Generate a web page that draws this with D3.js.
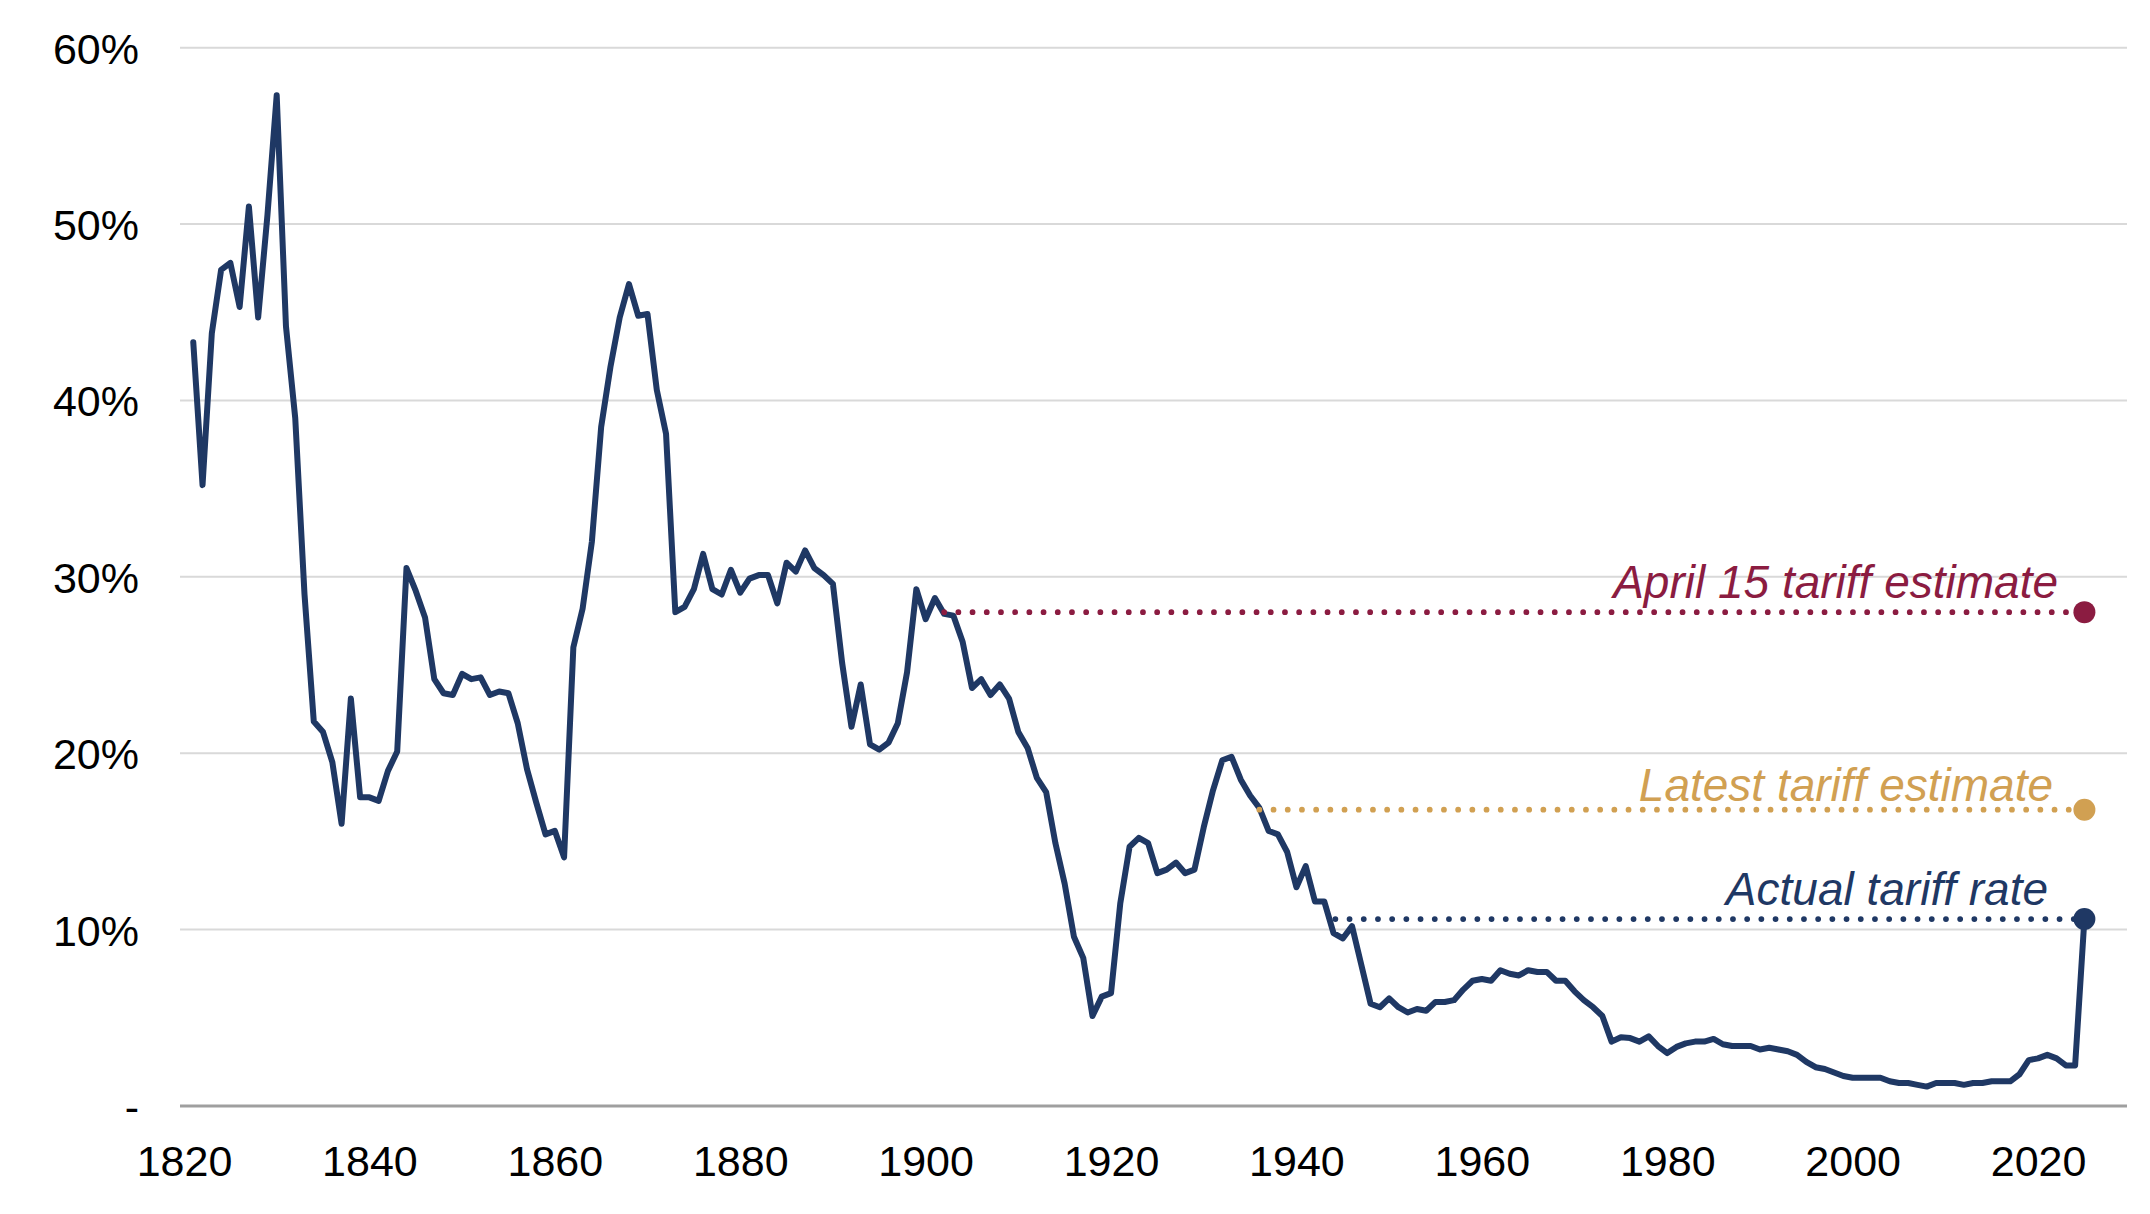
<!DOCTYPE html>
<html>
<head>
<meta charset="utf-8">
<script src="https://cdn.jsdelivr.net/npm/d3@7"></script>
<style>
  html, body { margin: 0; padding: 0; background: #fff; }
  svg { display: block; }
  text { font-family: "Liberation Sans", Arial, sans-serif; }
</style>
</head>
<body>
<svg id="chart" width="2150" height="1214"></svg>
<script>
// ---- Data ----
const years = d3.range(1821, 2026);
const tariffRates = [
  43.3, 35.2, 43.8, 47.4, 47.8, 45.3, 51.0, 44.7, 50.5, 57.3, // 1821-1830
  44.2, 39.0, 29.0, 21.8, 21.2, 19.5, 16.0, 23.1, 17.5, 17.5, // 1831-1840
  17.3, 19.0, 20.1, 30.5, 29.2, 27.7, 24.2, 23.4, 23.3, 24.5, // 1841-1850
  24.2, 24.3, 23.3, 23.5, 23.4, 21.7, 19.1, 17.2, 15.4, 15.6, // 1851-1860
  14.1, 26.0, 28.2, 32.0, 38.5, 41.9, 44.7, 46.6, 44.8, 44.9, // 1861-1870
  40.6, 38.1, 28.0, 28.3, 29.3, 31.3, 29.3, 29.0, 30.4, 29.1, // 1871-1880
  29.9, 30.1, 30.1, 28.5, 30.8, 30.3, 31.5, 30.5, 30.1, 29.6, // 1881-1890
  25.1, 21.5, 23.9, 20.5, 20.2, 20.6, 21.7, 24.6, 29.3, 27.6, // 1891-1900
  28.8, 27.9, 27.8, 26.3, 23.7, 24.2, 23.3, 23.9, 23.1, 21.2, // 1901-1910
  20.3, 18.6, 17.8, 14.9, 12.6, 9.6, 8.4, 5.1, 6.2, 6.4,      // 1911-1920
  11.5, 14.7, 15.2, 14.9, 13.2, 13.4, 13.8, 13.2, 13.4, 15.8, // 1921-1930
  17.9, 19.6, 19.8, 18.5, 17.6, 16.9, 15.6, 15.4, 14.4, 12.4, // 1931-1940
  13.6, 11.6, 11.6, 9.8, 9.5, 10.2, 8.0, 5.8, 5.6, 6.1,       // 1941-1950
  5.6, 5.3, 5.5, 5.4, 5.9, 5.9, 6.0, 6.6, 7.1, 7.2,           // 1951-1960
  7.1, 7.7, 7.5, 7.4, 7.7, 7.6, 7.6, 7.1, 7.1, 6.5,           // 1961-1970
  6.0, 5.6, 5.1, 3.65, 3.9, 3.85, 3.65, 3.95, 3.4, 3.0,       // 1971-1980
  3.35, 3.55, 3.65, 3.65, 3.8, 3.5, 3.4, 3.4, 3.4, 3.2,       // 1981-1990
  3.3, 3.2, 3.1, 2.9, 2.5, 2.2, 2.1, 1.9, 1.7, 1.6,           // 1991-2000
  1.6, 1.6, 1.6, 1.4, 1.3, 1.3, 1.2, 1.1, 1.3, 1.3,           // 2001-2010
  1.3, 1.2, 1.3, 1.3, 1.4, 1.4, 1.4, 1.8, 2.6, 2.7,           // 2011-2020
  2.9, 2.7, 2.3, 2.3, 10.6                                    // 2021-2025
];

const xTickYears = [1820, 1840, 1860, 1880, 1900, 1920, 1940, 1960, 1980, 2000, 2020];
const yTickValues = [0, 10, 20, 30, 40, 50, 60];
const yTickLabels = ["-", "10%", "20%", "30%", "40%", "50%", "60%"];

const refLabels = ["April 15 tariff estimate", "Latest tariff estimate", "Actual tariff rate"];
const refValues = [28.0, 16.8, 10.6];
const refStartYears = [1902, 1936, 1944.2];
const refEndYear = 2025;
const refColors = ["#8B1C41", "#D1A052", "#1F3864"];

// ---- Layout ----
const svg = d3.select("#chart");
const W = 2150, H = 1214;
const gridLeft = 180, gridRight = 2127;

const x = d3.scaleLinear().domain([1820, 2025]).range([184, 2084.4]);
const y = d3.scaleLinear().domain([0, 60]).range([1106, 47.7]);

svg.append("rect").attr("width", W).attr("height", H).attr("fill", "#fff");

// Gridlines
svg.append("g").selectAll("line")
  .data(yTickValues.filter(v => v > 0))
  .join("line")
  .attr("x1", gridLeft).attr("x2", gridRight)
  .attr("y1", d => y(d)).attr("y2", d => y(d))
  .attr("stroke", "#d9d9d9").attr("stroke-width", 2);

// Baseline
svg.append("line")
  .attr("x1", gridLeft).attr("x2", gridRight)
  .attr("y1", y(0)).attr("y2", y(0))
  .attr("stroke", "#9f9f9f").attr("stroke-width", 3);

// Y axis labels
const yAxis = d3.axisLeft(y).tickValues(yTickValues)
  .tickFormat((d, i) => yTickLabels[i]).tickSize(0).tickPadding(0);
const yG = svg.append("g").attr("transform", "translate(139,0)").call(yAxis);
yG.select(".domain").remove();
yG.selectAll("text")
  .attr("font-family", "Liberation Sans, Arial, sans-serif")
  .attr("font-size", 43).attr("fill", "#000")
  .attr("dy", "0.36em").attr("text-anchor", "end");

// X axis labels
const xAxis = d3.axisBottom(x).tickValues(xTickYears).tickFormat(d3.format("d"))
  .tickSize(0).tickPadding(0);
const xG = svg.append("g").attr("transform", "translate(0,1176)").call(xAxis);
xG.select(".domain").remove();
xG.selectAll("text")
  .attr("font-family", "Liberation Sans, Arial, sans-serif")
  .attr("font-size", 43).attr("fill", "#000")
  .attr("y", 0).attr("dy", 0);

const refs = refLabels.map((label, i) => ({
  label, value: refValues[i], start: refStartYears[i], color: refColors[i]
}));

// Main line
const series = years.map((yr, i) => ({ year: yr, value: tariffRates[i] }));
const line = d3.line().x(d => x(d.year)).y(d => y(d.value));
svg.append("path")
  .datum(series)
  .attr("d", line)
  .attr("fill", "none")
  .attr("stroke", "#1F3864")
  .attr("stroke-width", 6)
  .attr("stroke-linejoin", "round")
  .attr("stroke-linecap", "round");

// Reference dotted lines (drawn above the main line)
svg.append("g").selectAll("line")
  .data(refs)
  .join("line")
  .attr("x1", d => x(d.start)).attr("x2", x(refEndYear))
  .attr("y1", d => y(d.value)).attr("y2", d => y(d.value))
  .attr("stroke", d => d.color)
  .attr("stroke-width", 5.8)
  .attr("stroke-linecap", "round")
  .attr("stroke-dasharray", "0 14.2");

// Markers
svg.append("g").selectAll("circle")
  .data(refs)
  .join("circle")
  .attr("cx", x(refEndYear))
  .attr("cy", d => y(d.value))
  .attr("r", 11)
  .attr("fill", d => d.color);

// Labels
const labelRight = [2058, 2053, 2048];
const labelOffset = [14.5, 9, 14];
svg.append("g").selectAll("text")
  .data(refs)
  .join("text")
  .attr("x", (d, i) => labelRight[i])
  .attr("y", (d, i) => y(d.value) - labelOffset[i])
  .attr("text-anchor", "end")
  .attr("font-family", "Liberation Sans, Arial, sans-serif")
  .attr("font-style", "italic")
  .attr("font-size", 46)
  .attr("fill", d => d.color)
  .text(d => d.label);
</script>
</body>
</html>
